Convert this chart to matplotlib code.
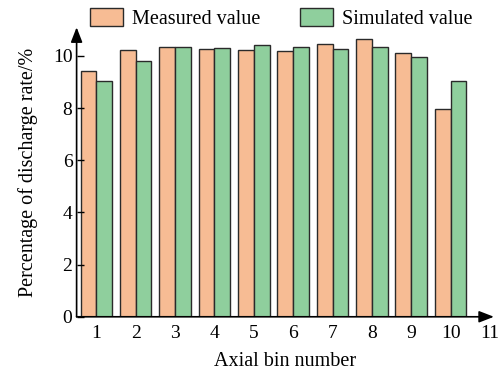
import matplotlib
matplotlib.use('Agg')
from matplotlib import pyplot as plt
import numpy as np

plt.rcParams['font.family'] = ['Liberation Serif', 'DejaVu Serif']
plt.rcParams['mathtext.fontset'] = 'stix'

bins = [1, 2, 3, 4, 5, 6, 7, 8, 9, 10]
measured = [9.44, 10.23, 10.33, 10.27, 10.23, 10.19, 10.45, 10.66, 10.13, 7.97]
simulated = [9.03, 9.81, 10.34, 10.29, 10.43, 10.34, 10.28, 10.36, 9.95, 9.04]
xticks = [1, 2, 3, 4, 5, 6, 7, 8, 9, 10, 11]
yticks = [0, 2, 4, 6, 8, 10]

c_meas = '#F7BC94'
c_sim = '#8FCF9D'

fig = plt.figure(figsize=(5.04, 3.74), dpi=100)
ax = fig.add_axes([0.152, 0.153, 0.828, 0.774])

x = np.array(bins)
w = 0.4
ax.bar(x - w/2, measured, w, color=c_meas, edgecolor='#2a2a2a', linewidth=1.0, label='Measured value')
ax.bar(x + w/2, simulated, w, color=c_sim, edgecolor='#2a2a2a', linewidth=1.0, label='Simulated value')

ax.set_xlim(0.5, 11.1)
ax.set_ylim(0, 11.1)
ax.set_xticks(xticks)
ax.set_yticks(yticks)
ax.tick_params(axis='y', direction='in', length=5, width=1, labelsize=14, pad=3)
ax.tick_params(axis='x', length=0, labelsize=14, pad=6)

for s in ['top', 'right', 'left', 'bottom']:
    ax.spines[s].set_visible(False)

# axis arrows
ax.annotate('', xy=(1.0, 0), xytext=(0, 0), xycoords='axes fraction',
            arrowprops=dict(arrowstyle='-|>,head_length=0.9,head_width=0.35', color='k', lw=1.2,
                            shrinkA=0, shrinkB=0), annotation_clip=False)
ax.annotate('', xy=(0, 1.0), xytext=(0, 0), xycoords='axes fraction',
            arrowprops=dict(arrowstyle='-|>,head_length=0.9,head_width=0.35', color='k', lw=1.2,
                            shrinkA=0, shrinkB=0), annotation_clip=False)

ax.set_xlabel('Axial bin number', fontsize=14.5, labelpad=7)
ax.set_ylabel('Percentage of discharge rate/%', fontsize=14.5, labelpad=11)

fig.legend(loc='center', bbox_to_anchor=(0.558, 0.95), ncol=2, frameon=False,
           fontsize=14.5, handlelength=1.6, handleheight=0.95, handletextpad=0.45,
           columnspacing=2.0)

fig.savefig('out.png', dpi=100)
